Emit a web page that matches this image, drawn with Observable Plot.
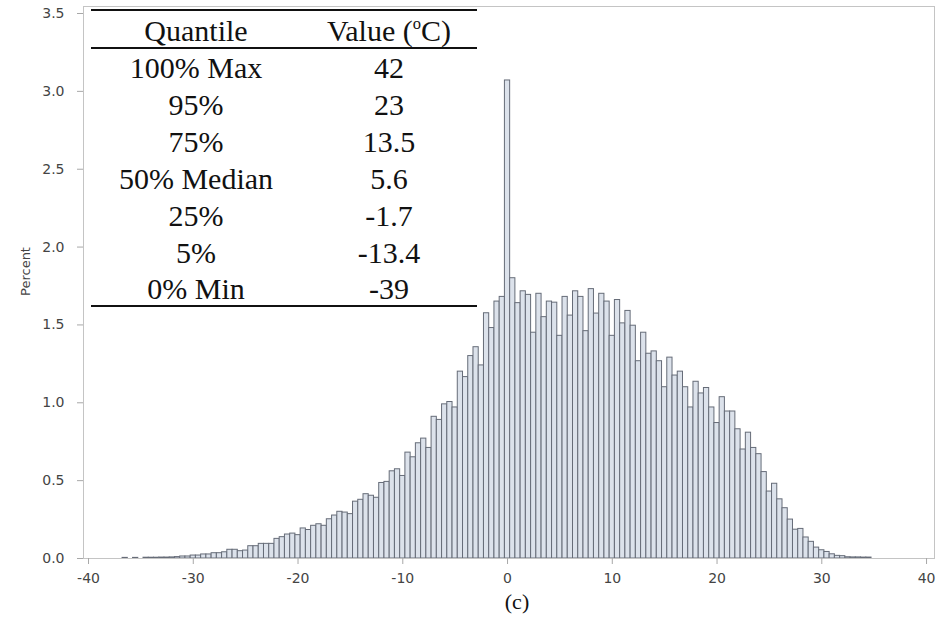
<!DOCTYPE html>
<html><head><meta charset="utf-8">
<script src="https://cdn.jsdelivr.net/npm/d3@7"></script>
<script src="https://cdn.jsdelivr.net/npm/@observablehq/plot@0.6"></script>
<style>
html,body{margin:0;padding:0;background:#fff;}
#wrap{position:relative;width:936px;height:624px;overflow:hidden;}
#qtable{position:absolute;left:91px;top:10px;width:386px;height:298px;font-family:"Liberation Serif","Times New Roman",serif;font-size:30px;color:#111;}
#qtable .rule{position:absolute;left:0;width:386px;height:0;border-top:2px solid #111;}
#qtable .row{position:absolute;left:0;width:386px;}
#qtable .c1{position:absolute;left:0;width:210px;text-align:center;}
#qtable .c2{position:absolute;left:210px;width:176px;text-align:center;}
#qtable .sup{font-size:0.55em;position:relative;top:-0.7em;}
</style>
</head><body>
<div id="wrap"></div>
<script>
// ---- data ----
const binWidth = 0.5;
const binCenters = [-36.5,-36,-35.5,-35,-34.5,-34,-33.5,-33,-32.5,-32,-31.5,-31,-30.5,-30,-29.5,-29,-28.5,-28,-27.5,-27,-26.5,-26,-25.5,-25,-24.5,-24,-23.5,-23,-22.5,-22,-21.5,-21,-20.5,-20,-19.5,-19,-18.5,-18,-17.5,-17,-16.5,-16,-15.5,-15,-14.5,-14,-13.5,-13,-12.5,-12,-11.5,-11,-10.5,-10,-9.5,-9,-8.5,-8,-7.5,-7,-6.5,-6,-5.5,-5,-4.5,-4,-3.5,-3,-2.5,-2,-1.5,-1,-0.5,0,0.5,1,1.5,2,2.5,3,3.5,4,4.5,5,5.5,6,6.5,7,7.5,8,8.5,9,9.5,10,10.5,11,11.5,12,12.5,13,13.5,14,14.5,15,15.5,16,16.5,17,17.5,18,18.5,19,19.5,20,20.5,21,21.5,22,22.5,23,23.5,24,24.5,25,25.5,26,26.5,27,27.5,28,28.5,29,29.5,30,30.5,31,31.5,32,32.5,33,33.5,34,34.5];
const percentValues = [0.004,0,0.004,0,0.005,0.005,0.005,0.006,0.006,0.007,0.009,0.013,0.013,0.019,0.019,0.026,0.026,0.034,0.034,0.04,0.056,0.056,0.047,0.051,0.079,0.079,0.094,0.094,0.094,0.126,0.137,0.154,0.16,0.15,0.193,0.183,0.21,0.22,0.21,0.252,0.276,0.30,0.295,0.285,0.365,0.377,0.413,0.403,0.39,0.485,0.492,0.56,0.573,0.53,0.68,0.65,0.74,0.77,0.71,0.91,0.89,0.99,1.005,0.97,1.20,1.165,1.30,1.357,1.24,1.575,1.48,1.65,1.68,3.07,1.80,1.64,1.716,1.693,1.45,1.70,1.55,1.65,1.643,1.43,1.68,1.56,1.716,1.68,1.46,1.73,1.573,1.70,1.65,1.43,1.66,1.51,1.59,1.495,1.267,1.45,1.315,1.33,1.267,1.10,1.29,1.175,1.20,1.10,0.97,1.135,1.06,1.095,0.97,0.87,1.036,0.944,0.944,0.83,0.70,0.808,0.71,0.67,0.555,0.43,0.48,0.38,0.323,0.25,0.185,0.19,0.135,0.107,0.07,0.053,0.042,0.027,0.017,0.015,0.008,0.007,0.007,0.006,0.006];
const xTicks = [-40,-30,-20,-10,0,10,20,30,40];
const yTicks = [0,0.5,1,1.5,2,2.5,3,3.5];
const yLabel = "Percent";
const caption = "(c)";
const quantileLabels = ["100% Max","95%","75%","50% Median","25%","5%","0% Min"];
const quantileValues = ["42","23","13.5","5.6","-1.7","-13.4","-39"];
const tableHeader = ["Quantile","Value ("];

// ---- chart ----
const data = binCenters.map((b,i)=>({lo:b-binWidth/2, hi:b+binWidth/2, pct:percentValues[i]}));

const chart = Plot.plot({
  width: 936, height: 624,
  marginLeft: 83, marginRight: 2, marginTop: 6, marginBottom: 66,
  style: {fontFamily: "'DejaVu Sans', sans-serif", fontSize: "14px", background: "#fff"},
  x: {domain: [-40.48, 40.76]},
  y: {domain: [0, 3.545]},
  marks: [
    Plot.rectY(data, {x1:"lo", x2:"hi", y:"pct", fill:"#dce2eb", stroke:"#666c78", strokeWidth:1}),
    Plot.frame({stroke:"#c4c4c4"}),
    Plot.axisX({ticks: xTicks, tickFormat: d=>String(d), tickSize:6, tickPadding:9, stroke:"#a8a8a8", fill:"#444", label:null}),
    Plot.axisY({ticks: yTicks, tickFormat: d=>d.toFixed(1), tickSize:6, tickPadding:13, stroke:"#a8a8a8", fill:"#444", label:null}),
    Plot.text([yLabel], {frameAnchor:"left", textAnchor:"middle", rotate:-90, dx:-58, dy:-11, fontSize:13, fill:"#444"}),
    Plot.text([caption], {frameAnchor:"bottom", dy:50, dx:8, fontFamily:"'Liberation Serif', serif", fontSize:22, fill:"#111"})
  ]
});
const wrap = document.getElementById("wrap");
wrap.appendChild(chart);

// ---- quantile table ----
const tbl = document.createElement("div");
tbl.id = "qtable";
const headerH = 38, rowH = 36.9, textShift = 2;
function rule(top){const r=document.createElement("div");r.className="rule";r.style.top=top+"px";tbl.appendChild(r);}
function row(top,h,a,bNode){
  const r=document.createElement("div");r.className="row";r.style.top=(top+textShift)+"px";r.style.height=h+"px";r.style.lineHeight=h+"px";
  const c1=document.createElement("div");c1.className="c1";c1.textContent=a;
  const c2=document.createElement("div");c2.className="c2";
  if(typeof bNode==="string") c2.textContent=bNode; else c2.appendChild(bNode);
  r.appendChild(c1);r.appendChild(c2);tbl.appendChild(r);
}
rule(-1);
const hv=document.createElement("span");
hv.appendChild(document.createTextNode(tableHeader[1]));
const sup=document.createElement("span");sup.className="sup";sup.textContent="o";hv.appendChild(sup);
hv.appendChild(document.createTextNode("C)"));
row(0,headerH,tableHeader[0],hv);
rule(headerH-1);
quantileLabels.forEach((q,i)=>row(headerH+i*rowH,rowH,q,quantileValues[i]));
rule(headerH+quantileLabels.length*rowH-1);
wrap.appendChild(tbl);
</script>
</body></html>
